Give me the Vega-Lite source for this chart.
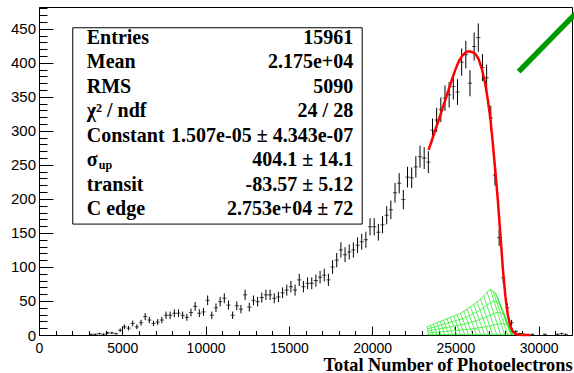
{
  "$schema": "https://vega.github.io/schema/vega-lite/v6.json",
  "width": 533,
  "height": 328,
  "autosize": "none",
  "padding": {"left": 39, "top": 7, "right": 2, "bottom": 38},
  "background": "white",
  "config": {
    "view": {"stroke": "black", "strokeWidth": 1},
    "axis": {"grid": false, "domainColor": "black", "tickColor": "black", "labelColor": "black", "tickWidth": 1, "domainWidth": 1}
  },
  "datasets": {
    "hist": [
      {"x":3125,"n":1,"e":1},{"x":3375,"n":1,"e":1},{"x":3625,"n":2,"e":1.4},{"x":3875,"n":1,"e":1},
      {"x":4125,"n":3,"e":1.7},{"x":4375,"n":3,"e":1.7},{"x":4625,"n":2,"e":1.4},{"x":4875,"n":7,"e":2.6},
      {"x":5125,"n":12,"e":3.5},{"x":5375,"n":10,"e":3.2},{"x":5625,"n":17,"e":4.1},{"x":5875,"n":12,"e":3.5},
      {"x":6125,"n":18,"e":4.2},{"x":6375,"n":27,"e":5.2},{"x":6625,"n":22,"e":4.7},{"x":6875,"n":17,"e":4.1},
      {"x":7125,"n":19,"e":4.4},{"x":7375,"n":22,"e":4.7},{"x":7625,"n":29,"e":5.4},{"x":7875,"n":29,"e":5.4},
      {"x":8125,"n":32,"e":5.7},{"x":8375,"n":32,"e":5.7},{"x":8625,"n":29,"e":5.4},{"x":8875,"n":26,"e":5.1},
      {"x":9125,"n":33,"e":5.7},{"x":9375,"n":42,"e":6.5},{"x":9625,"n":32,"e":5.7},{"x":9875,"n":34,"e":5.8},
      {"x":10125,"n":51,"e":7.1},{"x":10375,"n":29,"e":5.4},{"x":10625,"n":40,"e":6.3},{"x":10875,"n":49,"e":7},
      {"x":11125,"n":54,"e":7.3},{"x":11375,"n":44,"e":6.6},{"x":11625,"n":29,"e":5.4},{"x":11875,"n":43,"e":6.6},
      {"x":12125,"n":38,"e":6.2},{"x":12375,"n":59,"e":7.7},{"x":12625,"n":41,"e":6.4},{"x":12875,"n":51,"e":7.1},
      {"x":13125,"n":49,"e":7},{"x":13375,"n":55,"e":7.4},{"x":13625,"n":59,"e":7.7},{"x":13875,"n":59,"e":7.7},
      {"x":14125,"n":54,"e":7.3},{"x":14375,"n":56,"e":7.5},{"x":14625,"n":62,"e":7.9},{"x":14875,"n":66,"e":8.1},
      {"x":15125,"n":71,"e":8.4},{"x":15375,"n":66,"e":8.1},{"x":15625,"n":81,"e":9},{"x":15875,"n":71,"e":8.4},
      {"x":16125,"n":76,"e":8.7},{"x":16375,"n":76,"e":8.7},{"x":16625,"n":80,"e":8.9},{"x":16875,"n":85,"e":9.2},
      {"x":17125,"n":88,"e":9.4},{"x":17375,"n":81,"e":9},{"x":17625,"n":100,"e":10},{"x":17875,"n":110,"e":10.5},
      {"x":18125,"n":125,"e":11.2},{"x":18375,"n":118,"e":10.9},{"x":18625,"n":122,"e":11},{"x":18875,"n":125,"e":11.2},
      {"x":19125,"n":132,"e":11.5},{"x":19375,"n":137,"e":11.7},{"x":19625,"n":140,"e":11.8},{"x":19875,"n":159,"e":12.6},
      {"x":20125,"n":159,"e":12.6},{"x":20375,"n":151,"e":12.3},{"x":20625,"n":162,"e":12.7},{"x":20875,"n":176,"e":13.3},
      {"x":21125,"n":184,"e":13.6},{"x":21375,"n":209,"e":14.5},{"x":21625,"n":223,"e":14.9},{"x":21875,"n":199,"e":14.1},
      {"x":22125,"n":232,"e":15.2},{"x":22375,"n":231,"e":15.2},{"x":22625,"n":247,"e":15.7},{"x":22875,"n":262,"e":16.2},
      {"x":23125,"n":260,"e":16.1},{"x":23375,"n":254,"e":15.9},{"x":23625,"n":301,"e":17.3},{"x":23875,"n":316,"e":17.8},
      {"x":24125,"n":331,"e":18.2},{"x":24375,"n":348,"e":18.7},{"x":24625,"n":353,"e":18.8},{"x":24875,"n":365,"e":19.1},
      {"x":25125,"n":357,"e":18.9},{"x":25375,"n":401,"e":20},{"x":25625,"n":412,"e":20.3},{"x":25875,"n":370,"e":19.2},
      {"x":26125,"n":424,"e":20.6},{"x":26375,"n":437,"e":20.9},{"x":26625,"n":393,"e":19.8},{"x":26875,"n":378,"e":19.4},
      {"x":27125,"n":319,"e":17.9},{"x":27375,"n":235,"e":15.3},{"x":27625,"n":143,"e":12},{"x":27875,"n":84,"e":9.2},
      {"x":28125,"n":40,"e":6.3},{"x":28375,"n":18,"e":4.2},{"x":28625,"n":5,"e":2.2},{"x":28875,"n":2,"e":1.4},
      {"x":29125,"n":1,"e":1},{"x":29625,"n":1,"e":1},{"x":30375,"n":1,"e":1},{"x":31125,"n":1,"e":1},
      {"x":31375,"n":2,"e":1.4},{"x":31625,"n":1,"e":1}
    ],
    "fit": [
      {"x":23392,"y":272},{"x":23600,"y":287},{"x":23800,"y":302},{"x":24000,"y":316},{"x":24200,"y":331},
      {"x":24400,"y":346},{"x":24600,"y":361},{"x":24800,"y":376},{"x":25000,"y":390},{"x":25200,"y":402},
      {"x":25400,"y":410},{"x":25600,"y":415},{"x":25800,"y":417},{"x":26000,"y":416},{"x":26200,"y":413},
      {"x":26400,"y":405},{"x":26600,"y":390},{"x":26800,"y":368},{"x":26950,"y":345},{"x":27100,"y":318},
      {"x":27250,"y":280},{"x":27400,"y":240},{"x":27550,"y":197},{"x":27700,"y":148},{"x":27850,"y":97},
      {"x":28000,"y":57},{"x":28150,"y":29},{"x":28300,"y":13},{"x":28450,"y":5},{"x":28600,"y":1.5},
      {"x":28800,"y":0.3},{"x":29100,"y":0},{"x":29500,"y":0}
    ],
    "mesh": [
      {"g":"r1","x":23300,"y":12},{"g":"r1","x":23400,"y":0},
      {"g":"r1b","x":23500,"y":14},{"g":"r1b","x":23640,"y":0},
      {"g":"r2","x":23700,"y":16},{"g":"r2","x":23880,"y":0},
      {"g":"r2b","x":23900,"y":18},{"g":"r2b","x":24120,"y":0},
      {"g":"r3","x":24100,"y":20},{"g":"r3","x":24360,"y":0},
      {"g":"r3b","x":24300,"y":22},{"g":"r3b","x":24600,"y":0},
      {"g":"r4","x":24500,"y":24},{"g":"r4","x":24840,"y":0},
      {"g":"r4b","x":24700,"y":26},{"g":"r4b","x":25080,"y":0},
      {"g":"r5","x":24900,"y":28},{"g":"r5","x":25320,"y":0},
      {"g":"r5b","x":25100,"y":30},{"g":"r5b","x":25560,"y":0},
      {"g":"r6","x":25300,"y":32},{"g":"r6","x":25800,"y":0},
      {"g":"r6b","x":25500,"y":35},{"g":"r6b","x":26040,"y":0},
      {"g":"r7","x":25700,"y":38},{"g":"r7","x":26280,"y":0},
      {"g":"r7b","x":25900,"y":41.5},{"g":"r7b","x":26520,"y":0},
      {"g":"r8","x":26100,"y":45},{"g":"r8","x":26760,"y":0},
      {"g":"r8b","x":26300,"y":49},{"g":"r8b","x":27000,"y":0},
      {"g":"r9","x":26500,"y":53},{"g":"r9","x":27240,"y":0},
      {"g":"r9b","x":26700,"y":58},{"g":"r9b","x":27480,"y":0},
      {"g":"r10","x":26900,"y":63},{"g":"r10","x":27720,"y":0},
      {"g":"r11","x":27100,"y":67},{"g":"r11","x":27960,"y":0},
      {"g":"r11b","x":27250,"y":65},{"g":"r11b","x":28150,"y":0},
      {"g":"r12","x":27400,"y":62},{"g":"r12","x":28350,"y":0},
      {"g":"r12b","x":27550,"y":54},{"g":"r12b","x":28380,"y":0},
      {"g":"r13","x":27700,"y":45},{"g":"r13","x":28400,"y":0},
      {"g":"r13b","x":27850,"y":34},{"g":"r13b","x":28430,"y":0},
      {"g":"r14","x":28000,"y":22},{"g":"r14","x":28450,"y":0},
      {"g":"r14b","x":28150,"y":12},{"g":"r14b","x":28470,"y":0},
      {"g":"l1","x":23325,"y":9},{"g":"l1","x":23745,"y":12},{"g":"l1","x":24165,"y":15},{"g":"l1","x":24585,"y":18},
      {"g":"l1","x":25005,"y":21},{"g":"l1","x":25425,"y":24},{"g":"l1","x":25845,"y":28.5},{"g":"l1","x":26265,"y":33.8},
      {"g":"l1","x":26685,"y":39.8},{"g":"l1","x":27105,"y":47.3},{"g":"l1","x":27315,"y":50.3},{"g":"l1","x":27637,"y":46.5},
      {"g":"l1","x":27875,"y":33.8},{"g":"l1","x":28112,"y":16.5},
      {"g":"l2","x":23350,"y":6},{"g":"l2","x":23790,"y":8},{"g":"l2","x":24230,"y":10},{"g":"l2","x":24670,"y":12},
      {"g":"l2","x":25110,"y":14},{"g":"l2","x":25550,"y":16},{"g":"l2","x":25990,"y":19},{"g":"l2","x":26430,"y":22.5},
      {"g":"l2","x":26870,"y":26.5},{"g":"l2","x":27310,"y":31.5},{"g":"l2","x":27530,"y":33.5},{"g":"l2","x":27875,"y":31},
      {"g":"l2","x":28050,"y":22.5},{"g":"l2","x":28225,"y":11},
      {"g":"l3","x":23375,"y":3},{"g":"l3","x":23835,"y":4},{"g":"l3","x":24295,"y":5},{"g":"l3","x":24755,"y":6},
      {"g":"l3","x":25215,"y":7},{"g":"l3","x":25675,"y":8},{"g":"l3","x":26135,"y":9.5},{"g":"l3","x":26595,"y":11.3},
      {"g":"l3","x":27055,"y":13.3},{"g":"l3","x":27515,"y":15.8},{"g":"l3","x":27745,"y":16.8},{"g":"l3","x":28112,"y":15.5},
      {"g":"l3","x":28225,"y":11.3},{"g":"l3","x":28337,"y":5.5},
      {"g":"env","x":23300,"y":12},{"g":"env","x":23700,"y":16},{"g":"env","x":24100,"y":20},{"g":"env","x":24500,"y":24},
      {"g":"env","x":24900,"y":28},{"g":"env","x":25300,"y":32},{"g":"env","x":25700,"y":38},{"g":"env","x":26100,"y":45},
      {"g":"env","x":26500,"y":53},{"g":"env","x":26900,"y":63},{"g":"env","x":27100,"y":67},{"g":"env","x":27400,"y":62},
      {"g":"env","x":27700,"y":45},{"g":"env","x":28000,"y":22},{"g":"env","x":28300,"y":3},{"g":"env","x":28450,"y":0},
      {"g":"base","x":23300,"y":0.5},{"g":"base","x":28450,"y":0.5}
    ],
    "stats": [
      {"row":1,"name":"Entries","val":"15961","sub":""},
      {"row":2,"name":"Mean","val":"2.175e+04","sub":""},
      {"row":3,"name":"RMS","val":"5090","sub":""},
      {"row":4,"name":"χ² / ndf","val":"24 / 28","sub":""},
      {"row":5,"name":"Constant","val":"1.507e-05 ± 4.343e-07","sub":""},
      {"row":6,"name":"σ","val":"404.1 ± 14.1","sub":"up"},
      {"row":7,"name":"transit","val":"-83.57 ± 5.12","sub":""},
      {"row":8,"name":"C edge","val":"2.753e+04 ± 72","sub":""}
    ]
  },
  "layer": [
    {
      "layer": [
        {
          "data": {"name": "hist"},
          "mark": {"type": "errorbar", "color": "black", "thickness": 1},
          "encoding": {
            "x": {"field": "x", "type": "quantitative",
              "scale": {"domain": [0, 32000], "nice": false, "zero": false},
              "axis": {"orient": "bottom", "values": [0,5000,10000,15000,20000,25000,30000], "format": "d",
                "tickSize": -9, "labelPadding": 15, "labelFlush": false, "labelFont": "Liberation Sans", "labelFontSize": 14,
                "title": "Total Number of Photoelectrons", "titleFont": "Liberation Serif", "titleFontWeight": "bold",
                "titleFontSize": 18.3, "titleColor": "black", "titleAlign": "right", "titleAnchor": "end",
                "titleX": 533, "titleY": 35, "titleBaseline": "alphabetic"}},
            "y": {"field": "n", "type": "quantitative",
              "scale": {"domain": [0, 482], "nice": false, "zero": false},
              "axis": {"orient": "left", "values": [0,50,100,150,200,250,300,350,400,450],
                "tickSize": -14, "labelPadding": 17.5, "labelFont": "Liberation Sans", "labelFontSize": 15, "title": null}},
            "yError": {"field": "e"}
          }
        },
        {
          "data": {"name": "hist"},
          "mark": {"type": "tick", "orient": "horizontal", "size": 4.2, "thickness": 1, "color": "black"},
          "encoding": {
            "x": {"field": "x", "type": "quantitative",
              "scale": {"domain": [0, 32000], "nice": false, "zero": false},
              "axis": {"orient": "bottom", "values": [1000,2000,3000,4000,6000,7000,8000,9000,11000,12000,13000,14000,16000,17000,18000,19000,21000,22000,23000,24000,26000,27000,28000,29000,31000],
                "tickSize": -4.5, "labels": false, "domain": false, "title": null}},
            "y": {"field": "n", "type": "quantitative",
              "scale": {"domain": [0, 482], "nice": false, "zero": false},
              "axis": {"orient": "left", "values": [10,20,30,40,60,70,80,90,110,120,130,140,160,170,180,190,210,220,230,240,260,270,280,290,310,320,330,340,360,370,380,390,410,420,430,440,460,470,480],
                "tickSize": -8, "labels": false, "domain": false, "title": null}}
          }
        },
        {
          "data": {"name": "mesh"},
          "mark": {"type": "line", "color": "#33ee33", "strokeWidth": 0.8},
          "encoding": {
            "x": {"field": "x", "type": "quantitative", "axis": null},
            "y": {"field": "y", "type": "quantitative", "axis": null},
            "detail": {"field": "g"}
          }
        },
        {
          "data": {"name": "fit"},
          "mark": {"type": "line", "color": "#ff0000", "strokeWidth": 2.5},
          "encoding": {
            "x": {"field": "x", "type": "quantitative", "axis": null},
            "y": {"field": "y", "type": "quantitative", "axis": null}
          }
        },
        {
          "data": {"values": [{"x": 28800, "y": 387}, {"x": 32200, "y": 472}]},
          "mark": {"type": "line", "color": "#009900", "strokeWidth": 5.5, "clip": false, "strokeCap": "butt"},
          "encoding": {
            "x": {"field": "x", "type": "quantitative", "axis": null},
            "y": {"field": "y", "type": "quantitative", "axis": null}
          }
        },
        {
          "data": {"values": [{}]},
          "mark": {"type": "rect", "fill": "white", "stroke": "black", "strokeWidth": 1},
          "encoding": {
            "x": {"datum": 2026, "axis": null},
            "x2": {"datum": 19405},
            "y": {"datum": 451.5, "axis": null},
            "y2": {"datum": 163}
          }
        }
      ],
      "resolve": {"axis": {"x": "independent", "y": "independent"}}
    },
    {
      "data": {"name": "stats"},
      "encoding": {
        "y": {"field": "row", "type": "ordinal", "scale": {"type": "point", "range": [31, 202], "padding": 0}, "axis": null}
      },
      "layer": [
        {
          "mark": {"type": "text", "align": "left", "baseline": "middle", "font": "Liberation Serif", "fontWeight": "bold", "fontSize": 20, "color": "black"},
          "encoding": {"x": {"datum": 2868, "axis": null}, "text": {"field": "name"}}
        },
        {
          "mark": {"type": "text", "align": "left", "baseline": "middle", "font": "Liberation Serif", "fontWeight": "bold", "fontSize": 12, "color": "black", "dx": 12, "dy": 5},
          "encoding": {"x": {"datum": 2868, "axis": null}, "text": {"field": "sub"}}
        },
        {
          "mark": {"type": "text", "align": "right", "baseline": "middle", "font": "Liberation Serif", "fontWeight": "bold", "fontSize": 20, "color": "black"},
          "encoding": {"x": {"datum": 18863, "axis": null}, "text": {"field": "val"}}
        }
      ]
    }
  ],
  "resolve": {"scale": {"y": "independent"}, "axis": {"x": "independent", "y": "independent"}}
}
